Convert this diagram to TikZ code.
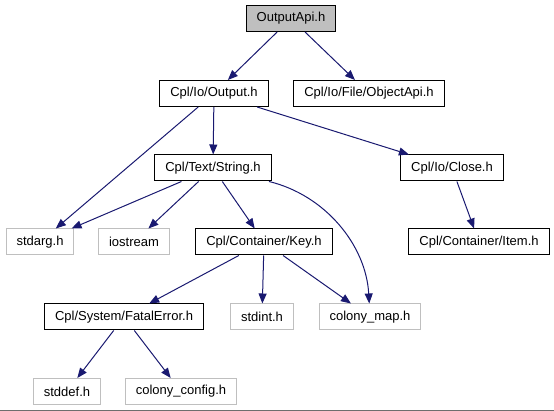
\documentclass[tikz,border=0pt]{standalone}
\usepackage{fontspec}
\setmainfont{Liberation Sans}
\usetikzlibrary{arrows.meta}

\definecolor{edgenavy}{HTML}{191970}
\definecolor{extgray}{HTML}{BFBFBF}
\definecolor{framegray}{HTML}{6E6E6E}

\tikzset{
    hfile/.style={draw=black, line width=1pt, font=\fontsize{13}{15}\selectfont,
                  inner xsep=10.5pt, inner ysep=0pt, minimum height=26pt},
    extfile/.style={hfile, draw=extgray},
    rootfile/.style={hfile, fill=extgray},
    incl/.style={draw=edgenavy, line width=1pt, -{Triangle[length=10pt, width=8pt]}}
}

\begin{document}
\begin{tikzpicture}[x=1pt, y=-1pt]
    \useasboundingbox (0,0) rectangle (554,411);

    % files
    \node[rootfile] (outapi)  at (291,18.5) {OutputApi.h};
    \node[hfile]    (output)  at (214,93.5) {Cpl/Io/Output.h};
    \node[hfile]    (objapi)  at (369,93.5) {Cpl/Io/File/ObjectApi.h};
    \node[hfile]    (string)  at (213,168)  {Cpl/Text/String.h};
    \node[hfile]    (close)   at (452,168)  {Cpl/Io/Close.h};
    \node[extfile]  (stdarg)  at (40,242)   {stdarg.h};
    \node[extfile]  (iostrm)  at (134,242)  {iostream};
    \node[hfile]    (key)     at (264,242)  {Cpl/Container/Key.h};
    \node[hfile]    (item)    at (479,242)  {Cpl/Container/Item.h};
    \node[hfile]    (fatal)   at (124,317)  {Cpl/System/FatalError.h};
    \node[extfile]  (stdint)  at (262,317)  {stdint.h};
    \node[extfile]  (cmap)    at (370,317)  {colony\_map.h};
    \node[extfile]  (stddef)  at (67,391.5) {stddef.h};
    \node[extfile]  (cconfig) at (181,391.5) {colony\_config.h};

    % includes
    \draw[incl] (outapi) -- (output);
    \draw[incl] (outapi) -- (objapi);
    \draw[incl] (output) -- (stdarg);
    \draw[incl] (output) -- (string);
    \draw[incl] (output) -- (close);
    \draw[incl] (string) -- (stdarg);
    \draw[incl] (string) -- (iostrm);
    \draw[incl] (string) -- (key);
    \draw[incl] (string) .. controls (325,195) and (366,245) .. (cmap);
    \draw[incl] (close) -- (item);
    \draw[incl] (key) -- (fatal);
    \draw[incl] (key) -- (stdint);
    \draw[incl] (key) -- (cmap);
    \draw[incl] (fatal) -- (stddef);
    \draw[incl] (fatal) -- (cconfig);

    % bottom edge of the frame
    \draw[draw=framegray, line width=1.5pt] (0,410.25) -- (554,410.25);
\end{tikzpicture}
\end{document}
